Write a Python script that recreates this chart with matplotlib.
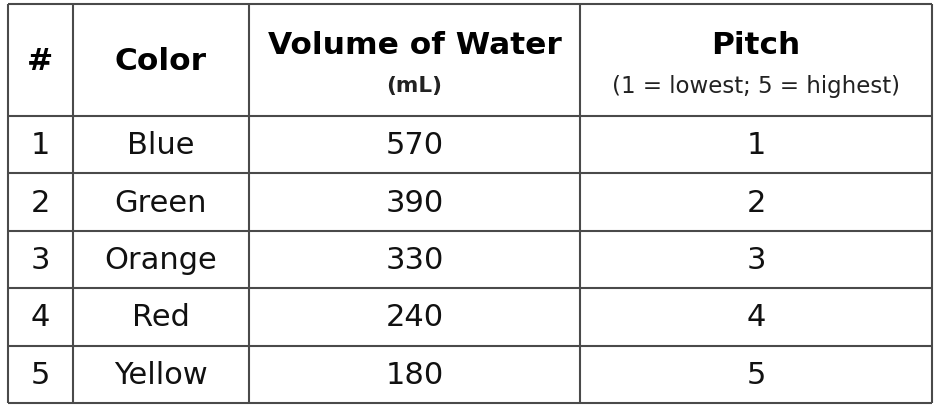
import matplotlib.pyplot as plt

# table contents
numbers = ["1", "2", "3", "4", "5"]
colors = ["Blue", "Green", "Orange", "Red", "Yellow"]
volumes = [570, 390, 330, 240, 180]
pitches = [1, 2, 3, 4, 5]

headers = ["#", "Color", "Volume of Water", "Pitch"]
subheaders = ["", "", "(mL)", "(1 = lowest; 5 = highest)"]

# layout in pixels
col_edges = [8, 73, 249, 580, 932]
header_top, header_bottom = 4, 116
row_h = 57.4
line_color = "#4a4a4a"
font = "DejaVu Sans"

fig = plt.figure(figsize=(9.41, 4.16), dpi=100)
ax = fig.add_axes([0, 0, 1, 1])
ax.set_xlim(0, 941)
ax.set_ylim(416, 0)
ax.axis("off")

n_rows = len(numbers)
row_edges = [header_bottom + i * row_h for i in range(n_rows + 1)]
bottom = row_edges[-1]

# grid lines
ax.hlines([header_top] + row_edges, col_edges[0], col_edges[-1], color=line_color, lw=1.5)
ax.vlines(col_edges, header_top, bottom, color=line_color, lw=1.5)

centers = [(col_edges[i] + col_edges[i + 1]) / 2 for i in range(len(col_edges) - 1)]

# header
for cx, h, sub in zip(centers, headers, subheaders):
    if sub:
        ax.text(cx, 45, h, ha="center", va="center", fontsize=22.5, fontweight="bold", family=font)
        bold = sub == "(mL)"
        ax.text(cx, 86, sub, ha="center", va="center",
                fontsize=15.5 if bold else 16.5,
                fontweight="bold" if bold else "normal", family=font, color="#222222")
    else:
        ax.text(cx, 62, h, ha="center", va="center", fontsize=22.5, fontweight="bold", family=font)

# body rows
for i in range(n_rows):
    cy = (row_edges[i] + row_edges[i + 1]) / 2 + 1
    values = [numbers[i], colors[i], str(volumes[i]), str(pitches[i])]
    for cx, v in zip(centers, values):
        ax.text(cx, cy, v, ha="center", va="center", fontsize=22, family=font, color="#111111")

fig.savefig("out.png", dpi=100)
